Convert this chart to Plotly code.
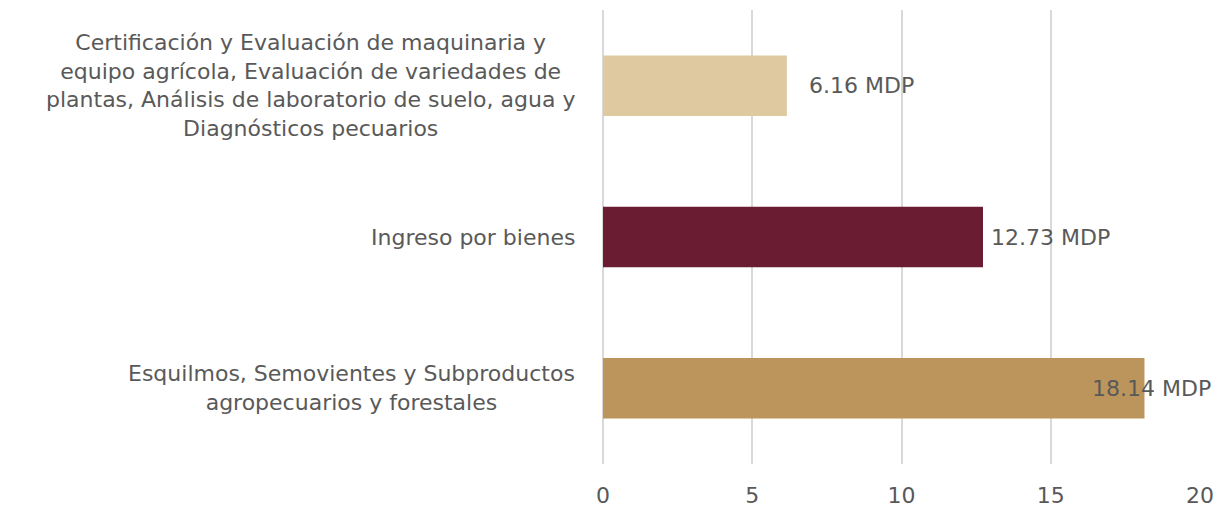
import plotly.graph_objects as go

categories = [
    "Certificación y Evaluación de maquinaria y<br>equipo agrícola, Evaluación de variedades de<br>plantas, Análisis de laboratorio de suelo, agua y<br>Diagnósticos pecuarios",
    "Ingreso por bienes",
    "Esquilmos, Semovientes y Subproductos<br>agropecuarios y forestales",
]
values = [6.16, 12.73, 18.14]
labels = ["6.16 MDP", "12.73 MDP", "18.14 MDP"]
colors = ["#DFC9A1", "#6A1C32", "#BC955C"]
label_shift = [20, 6, -54]

FONT = "DejaVu Sans"
TXT = "#595959"
FS = 22

fig = go.Figure()
fig.add_trace(go.Bar(
    x=values, y=categories, orientation="h",
    marker=dict(color=colors, line=dict(width=0)),
    width=0.4, hoverinfo="skip",
))

ann = []
for c, v, l, s in zip(categories, values, labels, label_shift):
    ann.append(dict(x=v, y=c, xref="x", yref="y", text=l, showarrow=False,
                    xanchor="left", yanchor="middle", xshift=s,
                    font=dict(family=FONT, size=FS, color=TXT)))
    ann.append(dict(x=0, y=c, xref="paper", yref="y", text=c, showarrow=False,
                    xanchor="right", yanchor="middle", xshift=-26, align="center",
                    font=dict(family=FONT, size=FS, color=TXT)))

fig.update_layout(
    width=1222, height=510,
    margin=dict(l=595, r=30, t=2, b=54, autoexpand=False),
    plot_bgcolor="white", paper_bgcolor="white",
    showlegend=False,
    annotations=ann,
    xaxis=dict(range=[0, 20], tickvals=[0, 5, 10, 15, 20], showgrid=True,
               gridcolor="#D9D9D9", gridwidth=2, zeroline=True,
               zerolinecolor="#D9D9D9", zerolinewidth=2,
               tickfont=dict(family=FONT, size=FS, color=TXT),
               ticklabelstandoff=16,
               ticks="", showline=False),
    yaxis=dict(autorange="reversed", showticklabels=False, showgrid=False,
               zeroline=False, showline=False, ticks=""),
)
fig.write_html("out.html")
